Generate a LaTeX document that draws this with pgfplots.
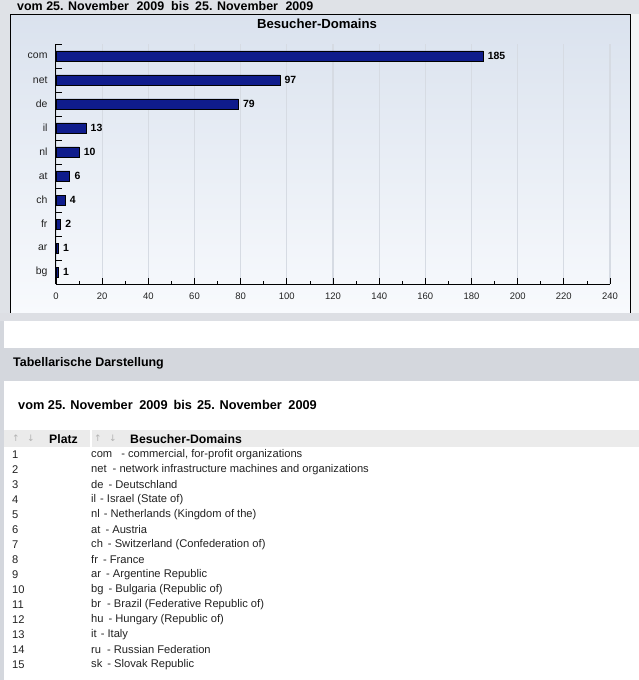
\documentclass[border=0pt]{standalone}
\usepackage{fontspec}
\setmainfont{Liberation Sans}
\newfontfamily\dv{DejaVu Sans}
\usepackage{pgfplots}
\pgfplotsset{compat=1.18}

\definecolor{pagegray}{HTML}{DFE2E7}
\definecolor{bandgray}{HTML}{D4D7DD}
\definecolor{rowhead}{HTML}{EBEBEB}
\definecolor{gradtop}{HTML}{DAE2EE}
\definecolor{gradbot}{HTML}{F8FAFD}
\definecolor{gridc}{HTML}{D6DBE3}
\definecolor{barc}{HTML}{0F1C8C}
\definecolor{txt}{HTML}{222222}

\newcommand{\row}[3]{%
  \node[anchor=west] at (12,#1) {#2};
  \node[anchor=west] at (91,#1) {#3};}

\begin{document}
\begin{tikzpicture}
\useasboundingbox (0,0) rectangle (639bp,-680bp);

% page background
\begin{scope}[x=1bp,y=-1bp]
  \fill[white] (0,0) rectangle (639,680);
  \fill[pagegray] (0,0) rectangle (639,14);
  \fill[pagegray] (0,14) rectangle (10,313);
  \fill[pagegray!40] (630,14) rectangle (639,313);
  \path[top color=gradtop, bottom color=gradbot, draw=black, line width=1bp]
    (10,14) rectangle (630,313);
  \fill[bandgray!80] (0,313) rectangle (639,321);
  \fill[bandgray] (0,321) rectangle (4,680);
  \fill[bandgray] (0,348) rectangle (639,381);
  \fill[rowhead] (4,430) rectangle (639,447);
  \draw[white, line width=1.5bp] (91,430) -- (91,447);
\end{scope}

\begin{axis}[
  at={(56bp,-284bp)}, anchor=south west,
  scale only axis, width=554bp, height=240bp,
  xbar, bar width=10bp,
  xmin=0, xmax=240, ymin=-0.5, ymax=9.5,
  axis x line*=bottom, axis y line*=left,
  axis line style={-, black, line width=1bp},
  tick style={black, line width=0.8bp},
  tick align=inside,
  major tick length=6bp, minor tick length=3bp,
  xtick={0,20,...,240}, minor xtick={10,30,...,230},
  ytick={-0.5,0.5,...,9.5}, yticklabels={},
  extra y ticks={0,1,2,3,4,5,6,7,8,9},
  extra y tick labels={bg,ar,fr,ch,at,nl,il,de,net,com},
  extra y tick style={major tick length=0pt},
  xmajorgrids, ymajorgrids=false,
  grid style={gridc, line width=1.2bp},
  /pgf/number format/assume math mode=true,
  xticklabel style={font=\fontsize{9.5}{9.5}\selectfont, text=txt, yshift=-5bp},
  yticklabel style={font=\fontsize{10.5}{10.5}\selectfont, text=txt, xshift=-5bp},
  nodes near coords,
  nodes near coords style={font=\bfseries\fontsize{10.5}{10.5}\selectfont, text=black, anchor=west, xshift=1bp},
  clip=false,
]
\addplot[fill=barc, draw=black, line width=0.8bp] coordinates {
  (185,9) (97,8) (79,7) (13,6) (10,5) (6,4) (4,3) (2,2) (1,1) (1,0)
};
\end{axis}

% texts
\begin{scope}[x=1bp,y=-1bp, every node/.style={inner sep=0pt, text=txt}]
  \node[anchor=west, font=\bfseries\fontsize{12.5}{12.5}\selectfont, text=black] at (17,6.5)
    {vom 25. November\hspace{4bp} 2009\hspace{7bp}bis\hspace{6bp}25. November\hspace{4bp} 2009};
  \node[font=\bfseries\fontsize{13.2}{13.2}\selectfont, text=black] at (317,24) {Besucher-Domains};
  \node[anchor=west, font=\bfseries\fontsize{12.5}{12.5}\selectfont, text=black] at (13,363)
    {Tabellarische Darstellung};
  \node[anchor=west, font=\bfseries\fontsize{12.8}{12.8}\selectfont, text=black] at (18,405)
    {vom 25. November\hspace{3bp} 2009\hspace{6bp}bis\hspace{5bp}25. November\hspace{3bp} 2009};
  \node[font=\dv\fontsize{9}{9}\selectfont, text=black!30] at (16,438.5) {↑};
  \node[font=\dv\fontsize{9}{9}\selectfont, text=black!30] at (31,438.5) {↓};
  \node[font=\dv\fontsize{9}{9}\selectfont, text=black!30] at (98,438.5) {↑};
  \node[font=\dv\fontsize{9}{9}\selectfont, text=black!30] at (113,438.5) {↓};
  \node[anchor=west, font=\bfseries\fontsize{12.3}{12.3}\selectfont, text=black] at (49,439) {Platz};
  \node[anchor=west, font=\bfseries\fontsize{12.3}{12.3}\selectfont, text=black] at (130,439) {Besucher-Domains};
  \begin{scope}[every node/.append style={font=\fontsize{11.2}{11.2}\selectfont}]
    \row{455}{1}{com\hspace{9bp}- commercial, for-profit organizations}
    \row{470}{2}{net\hspace{6bp}- network infrastructure machines and organizations}
    \row{485}{3}{de\hspace{5bp}- Deutschland}
    \row{500}{4}{il\hspace{4bp}- Israel (State of)}
    \row{515}{5}{nl\hspace{4bp}- Netherlands (Kingdom of the)}
    \row{530}{6}{at\hspace{5bp}- Austria}
    \row{545}{7}{ch\hspace{5bp}- Switzerland (Confederation of)}
    \row{560}{8}{fr\hspace{5bp}- France}
    \row{575}{9}{ar\hspace{5bp}- Argentine Republic}
    \row{590}{10}{bg\hspace{5bp}- Bulgaria (Republic of)}
    \row{605}{11}{br\hspace{6bp}- Brazil (Federative Republic of)}
    \row{620}{12}{hu\hspace{5bp}- Hungary (Republic of)}
    \row{635}{13}{it\hspace{4bp}- Italy}
    \row{650}{14}{ru\hspace{6bp}- Russian Federation}
    \row{665}{15}{sk\hspace{5bp}- Slovak Republic}
  \end{scope}
\end{scope}
\end{tikzpicture}
\end{document}
